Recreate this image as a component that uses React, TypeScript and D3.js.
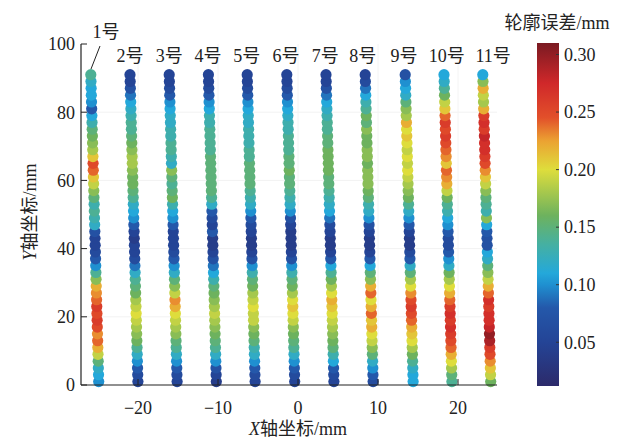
import React from "react";
import * as d3 from "d3";

// sample heights along each strip (mm)
const sampleY = [1, 3, 5, 7, 9, 11, 13, 15, 17, 19, 21, 23, 25, 27, 29, 31, 33, 35, 37, 39, 41, 43, 45,
  47, 49, 51, 53, 55, 57, 59, 61, 63, 65, 67, 69, 71, 73, 75, 77, 79, 81, 83, 85, 87, 89, 91];

// x of each strip at its bottom and at its top (mm)
const stripBottomX = [-24.9, -20.0, -15.1, -10.2, -5.35, -0.4, 4.5, 9.4, 14.4, 19.25, 24.1];
const stripTopX = [-25.9, -21.0, -16.1, -11.2, -6.35, -1.4, 3.5, 8.4, 13.4, 18.25, 23.1];

const stripNames = ["1号", "2号", "3号", "4号", "5号", "6号", "7号", "8号", "9号", "10号", "11号"];
const labelX = [-24.0, -21.0, -16.1, -11.25, -6.4, -1.5, 3.4, 8.1, 13.25, 18.6, 24.4];

// contour error (mm) from bottom to top
const strip1 = [0.10, 0.11, 0.12, 0.15, 0.19, 0.22, 0.24, 0.23, 0.25, 0.26, 0.25, 0.26, 0.24, 0.23, 0.22, 0.17,
  0.14, 0.10, 0.08, 0.06, 0.05, 0.05, 0.07, 0.12, 0.13, 0.14, 0.13, 0.15, 0.17, 0.19, 0.21, 0.24, 0.25, 0.21,
  0.18, 0.17, 0.16, 0.15, 0.13, 0.11, 0.08, 0.10, 0.11, 0.11, 0.12, 0.14];
const strip2 = [0.05, 0.06, 0.08, 0.10, 0.12, 0.14, 0.16, 0.17, 0.18, 0.19, 0.20, 0.19, 0.18, 0.16, 0.15, 0.14,
  0.12, 0.09, 0.06, 0.05, 0.05, 0.04, 0.05, 0.08, 0.10, 0.11, 0.12, 0.14, 0.15, 0.16, 0.16, 0.17, 0.18, 0.18,
  0.17, 0.16, 0.15, 0.14, 0.14, 0.13, 0.12, 0.11, 0.09, 0.07, 0.05, 0.05];
const strip3 = [0.05, 0.06, 0.08, 0.10, 0.12, 0.14, 0.15, 0.17, 0.18, 0.19, 0.20, 0.22, 0.23, 0.19, 0.17, 0.15,
  0.12, 0.10, 0.08, 0.06, 0.05, 0.05, 0.05, 0.08, 0.10, 0.11, 0.13, 0.16, 0.15, 0.14, 0.15, 0.17, 0.12, 0.13,
  0.14, 0.14, 0.13, 0.13, 0.12, 0.12, 0.11, 0.10, 0.08, 0.06, 0.05, 0.05];
const strip4 = [0.04, 0.05, 0.07, 0.10, 0.12, 0.14, 0.15, 0.16, 0.17, 0.18, 0.19, 0.18, 0.17, 0.16, 0.15, 0.13,
  0.11, 0.09, 0.07, 0.05, 0.04, 0.04, 0.08, 0.05, 0.06, 0.08, 0.12, 0.14, 0.15, 0.15, 0.15, 0.15, 0.15, 0.15,
  0.14, 0.14, 0.14, 0.14, 0.13, 0.13, 0.11, 0.10, 0.08, 0.06, 0.05, 0.05];
const strip5 = [0.05, 0.06, 0.08, 0.10, 0.12, 0.13, 0.15, 0.16, 0.17, 0.19, 0.19, 0.20, 0.19, 0.18, 0.16, 0.15,
  0.13, 0.10, 0.07, 0.05, 0.04, 0.04, 0.05, 0.06, 0.08, 0.10, 0.12, 0.13, 0.14, 0.15, 0.15, 0.15, 0.15, 0.14,
  0.14, 0.13, 0.13, 0.13, 0.12, 0.12, 0.11, 0.10, 0.08, 0.06, 0.05, 0.05];
const strip6 = [0.05, 0.06, 0.08, 0.10, 0.12, 0.14, 0.15, 0.16, 0.17, 0.19, 0.20, 0.21, 0.20, 0.18, 0.16, 0.15,
  0.13, 0.10, 0.07, 0.05, 0.04, 0.04, 0.04, 0.05, 0.07, 0.10, 0.12, 0.13, 0.14, 0.15, 0.15, 0.16, 0.15, 0.15,
  0.14, 0.14, 0.14, 0.13, 0.13, 0.12, 0.11, 0.10, 0.08, 0.06, 0.05, 0.05];
const strip7 = [0.05, 0.06, 0.08, 0.11, 0.13, 0.15, 0.16, 0.17, 0.18, 0.19, 0.20, 0.21, 0.22, 0.20, 0.18, 0.16,
  0.14, 0.11, 0.08, 0.05, 0.04, 0.04, 0.05, 0.06, 0.09, 0.11, 0.12, 0.13, 0.14, 0.15, 0.15, 0.16, 0.16, 0.16,
  0.16, 0.15, 0.15, 0.14, 0.14, 0.13, 0.12, 0.11, 0.09, 0.07, 0.05, 0.05];
const strip8 = [0.06, 0.08, 0.10, 0.12, 0.15, 0.17, 0.19, 0.20, 0.22, 0.21, 0.24, 0.22, 0.20, 0.24, 0.22, 0.17,
  0.15, 0.11, 0.08, 0.05, 0.04, 0.04, 0.05, 0.07, 0.10, 0.12, 0.13, 0.15, 0.16, 0.17, 0.17, 0.17, 0.16, 0.17,
  0.17, 0.16, 0.16, 0.17, 0.15, 0.16, 0.14, 0.13, 0.11, 0.09, 0.06, 0.05];
const strip9 = [0.11, 0.11, 0.12, 0.14, 0.16, 0.18, 0.20, 0.21, 0.22, 0.24, 0.25, 0.26, 0.25, 0.23, 0.20, 0.18,
  0.15, 0.12, 0.08, 0.06, 0.04, 0.04, 0.05, 0.08, 0.10, 0.12, 0.14, 0.16, 0.17, 0.18, 0.19, 0.20, 0.19, 0.20,
  0.19, 0.20, 0.21, 0.20, 0.22, 0.18, 0.17, 0.15, 0.12, 0.11, 0.10, 0.07];
const strip10 = [0.14, 0.15, 0.18, 0.20, 0.22, 0.24, 0.25, 0.26, 0.27, 0.26, 0.27, 0.26, 0.24, 0.22, 0.20, 0.18,
  0.16, 0.12, 0.10, 0.08, 0.06, 0.06, 0.08, 0.10, 0.11, 0.13, 0.14, 0.16, 0.19, 0.22, 0.23, 0.24, 0.21, 0.23,
  0.24, 0.25, 0.26, 0.25, 0.26, 0.24, 0.21, 0.19, 0.16, 0.14, 0.12, 0.11];
const strip11 = [0.16, 0.19, 0.21, 0.23, 0.25, 0.26, 0.29, 0.30, 0.28, 0.27, 0.27, 0.26, 0.27, 0.24, 0.22, 0.19,
  0.17, 0.15, 0.12, 0.11, 0.07, 0.07, 0.08, 0.11, 0.17, 0.13, 0.14, 0.15, 0.17, 0.19, 0.21, 0.23, 0.25, 0.26,
  0.27, 0.27, 0.28, 0.26, 0.27, 0.26, 0.22, 0.18, 0.19, 0.22, 0.17, 0.11];
const strips = [strip1, strip2, strip3, strip4, strip5, strip6, strip7, strip8, strip9, strip10, strip11];

const xTicks = [-20, -10, 0, 10, 20];
const yTicks = [0, 20, 40, 60, 80, 100];
const cbTicks = [0.05, 0.1, 0.15, 0.2, 0.25, 0.3];

// colormap stops (jet-like)
const cmapValues = [0.012, 0.05, 0.08, 0.10, 0.11, 0.135, 0.16, 0.20, 0.225, 0.245, 0.275, 0.31];
const cmapColors = ["#2c2a6a", "#244496", "#2458aa", "#1f90d0", "#24a8da", "#45b0a2", "#6db25e",
  "#dedd3c", "#eba232", "#e2502a", "#d0282a", "#7a1a22"];

const font = "'Liberation Serif','Times New Roman','Noto Sans CJK SC',serif";

export default function App() {
  const W = 632, H = 439;
  const x = d3.scaleLinear().domain([-27.125, 24.875]).range([81, 497]);
  const y = d3.scaleLinear().domain([0, 100]).range([385, 44]);
  const color = d3.scaleLinear<string>().domain(cmapValues).range(cmapColors).interpolate(d3.interpolateRgb);
  const cb = d3.scaleLinear().domain([0.012, 0.31]).range([386, 43]);
  const cbX = 537, cbW = 22;
  const topY = sampleY[sampleY.length - 1];
  const fmt = d3.format(".2f");

  const dots: { cx: number; cy: number; v: number; k: string }[] = [];
  strips.forEach((vals, i) => {
    vals.forEach((v, j) => {
      const yy = sampleY[j];
      const xx = stripBottomX[i] + (stripTopX[i] - stripBottomX[i]) * (yy / topY);
      dots.push({ cx: x(xx), cy: y(yy), v, k: `${i}-${j}` });
    });
  });

  return (
    <svg width={W} height={H} style={{ position: "absolute", left: 0, top: 0, background: "#fff" }}
      fontFamily={font}>
      <defs>
        <linearGradient id="cmap" x1="0" y1="1" x2="0" y2="0">
          {cmapValues.map((v, i) => (
            <stop key={i} offset={(v - 0.012) / (0.31 - 0.012)} stopColor={cmapColors[i]} />
          ))}
        </linearGradient>
      </defs>

      {/* faint grid */}
      {yTicks.slice(1, -1).map(t => (
        <line key={"gy" + t} x1={81} x2={497} y1={y(t)} y2={y(t)} stroke="#f2f2f2" />
      ))}
      {xTicks.map(t => (
        <line key={"gx" + t} x1={x(t)} x2={x(t)} y1={44} y2={385} stroke="#f4f4f4" />
      ))}

      {/* strips */}
      {dots.map(d => (
        <circle key={d.k} cx={d.cx} cy={d.cy} r={5.6} fill={color(d.v)} />
      ))}

      {/* axes */}
      <line x1={81} x2={81} y1={44} y2={385} stroke="#222" strokeWidth={1.2} />
      <line x1={81} x2={497} y1={385} y2={385} stroke="#222" strokeWidth={1.2} />
      {yTicks.map(t => (
        <g key={"yt" + t}>
          <line x1={81} x2={87} y1={y(t)} y2={y(t)} stroke="#222" />
          <text x={75} y={y(t)} dy="0.35em" textAnchor="end" fontSize={18} fill="#222">{t}</text>
        </g>
      ))}
      {xTicks.map(t => (
        <g key={"xt" + t}>
          <line x1={x(t)} x2={x(t)} y1={385} y2={379} stroke="#222" />
          <text x={x(t)} y={414} textAnchor="middle" fontSize={18} fill="#222">{d3.format("")(t).replace("-", "\u2212")}</text>
        </g>
      ))}
      <text x={298} y={435} textAnchor="middle" fontSize={18} fill="#222">
        <tspan fontStyle="italic">X</tspan>轴坐标/mm
      </text>
      <text transform="translate(36,212) rotate(-90)" textAnchor="middle" fontSize={18} fill="#222">
        <tspan fontStyle="italic">Y</tspan>轴坐标/mm
      </text>

      {/* strip labels */}
      {stripNames.map((n, i) => (
        i === 0 ? (
          <g key={n}>
            <text x={x(labelX[i])} y={38} textAnchor="middle" fontSize={18} fill="#222">{n}</text>
            <line x1={100} y1={46} x2={91} y2={69} stroke="#222" strokeWidth={1} />
          </g>
        ) : (
          <text key={n} x={x(labelX[i])} y={62} textAnchor="middle" fontSize={18} fill="#222">{n}</text>
        )
      ))}

      {/* colorbar */}
      <rect x={cbX} y={43} width={cbW} height={386 - 43} fill="url(#cmap)" />
      {cbTicks.map(t => (
        <g key={"cb" + t}>
          <line x1={cbX + cbW - 3} x2={cbX + cbW} y1={cb(t)} y2={cb(t)} stroke="#333" />
          <text x={564} y={cb(t)} dy="0.35em" fontSize={18} fill="#222">{fmt(t)}</text>
        </g>
      ))}
      <text x={557} y={29} textAnchor="middle" fontSize={18} fill="#222">轮廓误差/mm</text>
    </svg>
  );
}
